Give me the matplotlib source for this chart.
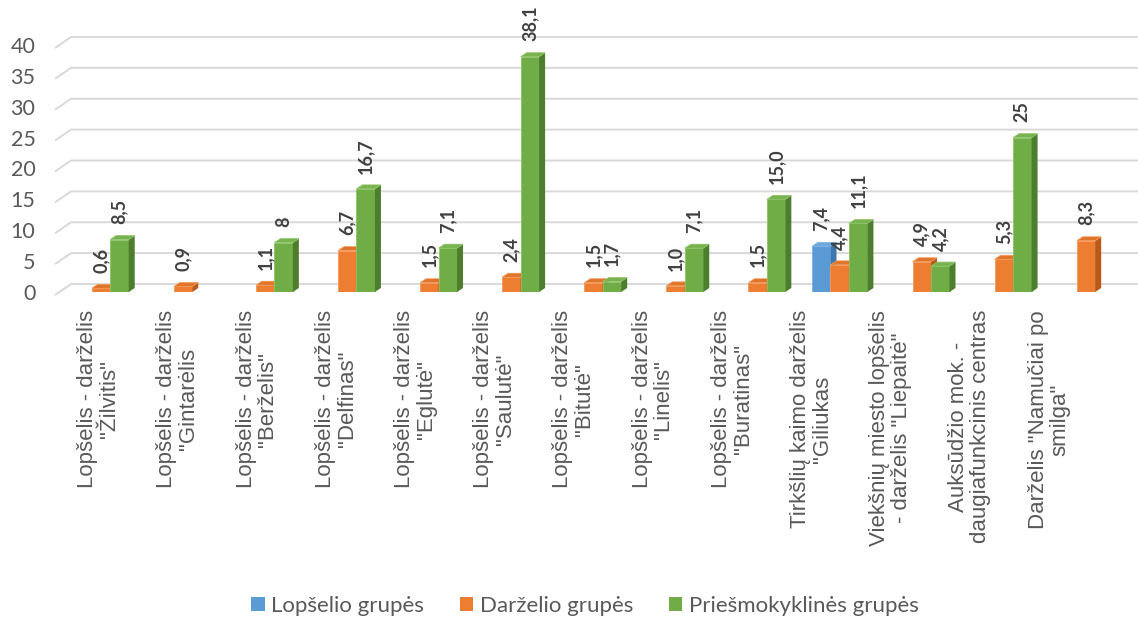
import numpy as np
import matplotlib
matplotlib.use("Agg")
import matplotlib.pyplot as plt
from matplotlib.patches import Patch, Polygon

# ---------------- data ----------------
categories = [
    'Lopšelis - darželis\n"Žilvitis"',
    'Lopšelis - darželis\n"Gintarėlis',
    'Lopšelis - darželis\n"Berželis"',
    'Lopšelis - darželis\n"Delfinas"',
    'Lopšelis - darželis\n"Eglutė"',
    'Lopšelis - darželis\n"Saulutė"',
    'Lopšelis - darželis\n"Bitutė"',
    'Lopšelis - darželis\n"Linelis"',
    'Lopšelis - darželis\n"Buratinas"',
    'Tirkšlių kaimo darželis\n"Giliukas',
    'Viekšnių miesto lopšelis\n- darželis "Liepaitė"',
    'Auksūdžio mok. -\ndaugiafunkcinis centras',
    'Darželis "Namučiai po\nsmilga"',
]
series_names = ["Lopšelio grupės", "Darželio grupės", "Priešmokyklinės grupės"]
nan = np.nan
lopselio = [nan, nan, nan, nan, nan, nan, nan, nan, nan, 7.4, nan, nan, nan]
darzelio = [0.6, 0.9, 1.1, 6.7, 1.5, 2.4, 1.5, 1.0, 1.5, 4.4, 4.9, 5.3, 8.3]
priesm = [8.5, nan, 8, 16.7, 7.1, 38.1, 1.7, 7.1, 15.0, 11.1, 4.2, 25, nan]
lopselio_lbl = ["", "", "", "", "", "", "", "", "", "7,4", "", "", ""]
darzelio_lbl = ["0,6", "0,9", "1,1", "6,7", "1,5", "2,4", "1,5", "1,0", "1,5", "4,4", "4,9", "5,3", "8,3"]
priesm_lbl = ["8,5", "", "8", "16,7", "7,1", "38,1", "1,7", "7,1", "15,0", "11,1", "4,2", "25", ""]
y_ticks = [0, 5, 10, 15, 20, 25, 30, 35, 40]

# ---------------- style ----------------
front = ["#5B9BD5", "#ED7D31", "#70AD47"]
side = ["#3D79B0", "#B85A1B", "#4D7E2E"]
top = ["#6FA8DC", "#E0742A", "#79B350"]
edge = ["#7DB2E3", "#F49A5A", "#8CC466"]

W, H = 1138, 620
fig = plt.figure(figsize=(W / 100, H / 100), dpi=100)
ax = fig.add_axes([59 / W, 328 / H, 1079 / W, 247 / H])
x0, x1 = -0.5117, 12.634
ax.set_xlim(x0, x1)
ax.set_ylim(0, 40)
px_x = 1079 / (x1 - x0)
px_y = 247 / 40.0
for s in ax.spines.values():
    s.set_visible(False)

# back-wall gridlines with floor slant
for v in y_ticks:
    ax.plot([x0 - 4 / px_x, x0 + 12 / px_x, x1 + 1],
            [v - 3 / px_y, v + 8 / px_y, v + 8 / px_y],
            color="#D9D9D9", lw=1.4, clip_on=False, zorder=0,
            solid_capstyle="butt")

ax.set_yticks(y_ticks)
ax.set_yticklabels([str(t) for t in y_ticks])
ax.tick_params(axis="y", length=0, pad=17, labelsize=15.5, labelcolor="#595959")
for lbl in ax.get_yticklabels():
    lbl.set_family("Lato")

x = np.arange(len(categories))
ax.set_xticks(x * 0.965 - 0.03)
ax.set_xticklabels(categories, rotation=90, fontsize=16, color="#595959",
                   family="Liberation Sans", linespacing=1.05)
ax.tick_params(axis="x", length=0, pad=13)

width = 0.225
offsets = [-width, 0.0, width]
dx = 6 / px_x
dy = 4 / px_y
all_vals = [lopselio, darzelio, priesm]
all_lbls = [lopselio_lbl, darzelio_lbl, priesm_lbl]

for s, (vals, lbls) in enumerate(zip(all_vals, all_lbls)):
    z = 2 + s
    for i, v in enumerate(vals):
        if np.isnan(v):
            continue
        xc = x[i] + offsets[s]
        xl, xr = xc - width / 2, xc + width / 2
        ax.bar(xc, v, width, color=front[s], edgecolor=edge[s], lw=0.6, zorder=z)
        ax.add_patch(Polygon([(xr, 0), (xr + dx, dy), (xr + dx, v + dy), (xr, v)],
                             closed=True, facecolor=side[s], edgecolor="none", zorder=z))
        ax.add_patch(Polygon([(xl, v), (xl + dx, v + dy), (xr + dx, v + dy), (xr, v)],
                             closed=True, facecolor=top[s], edgecolor=edge[s], lw=0.5, zorder=z))
        if lbls[i]:
            ax.annotate(lbls[i], (xc, v), xytext=(0, 11), textcoords="offset points",
                        rotation=90, ha="center", va="bottom", fontsize=13,
                        fontweight="bold", color="#404040", family="Lato",
                        zorder=10, annotation_clip=False)

handles = [Patch(facecolor=c, edgecolor="none") for c in front]
fig.legend(handles, series_names, loc="center", bbox_to_anchor=(585 / W, 1 - 606 / H),
           ncol=3, frameon=False, prop={"family": "Lato", "size": 16},
           handlelength=0.6, handleheight=0.6, handletextpad=0.3,
           columnspacing=1.6, labelcolor="#595959")

fig.savefig("out.png", dpi=100)
